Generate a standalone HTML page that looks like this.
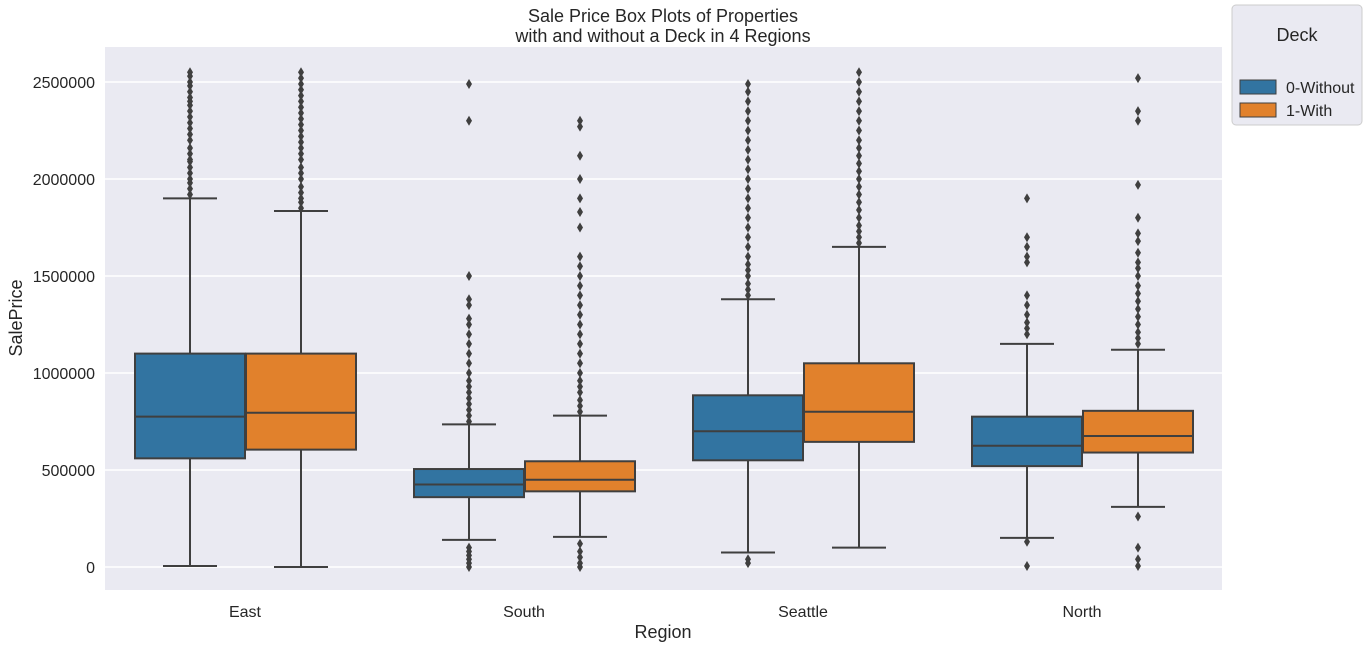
<!DOCTYPE html>
<html><head><meta charset="utf-8">
<style>
body{margin:0;background:#fff;font-family:"Liberation Sans","DejaVu Sans",sans-serif;}
svg text{font-family:"Liberation Sans","DejaVu Sans",sans-serif;fill:#262626;}
</style></head>
<body>
<svg id="chart" width="1370" height="648" viewBox="0 0 1370 648">
<rect x="105" y="47" width="1117" height="543" fill="#eaeaf2"/>
<g id="grid"></g>
<g id="boxes"></g>
<text x="663" y="22" text-anchor="middle" font-size="18">Sale Price Box Plots of Properties</text>
<text x="663" y="42" text-anchor="middle" font-size="18">with and without a Deck in 4 Regions</text>
<text x="663" y="638" text-anchor="middle" font-size="18">Region</text>
<text transform="translate(22,318) rotate(-90)" text-anchor="middle" font-size="18">SalePrice</text>
<g>
<rect x="1232" y="5" width="130" height="120" rx="4" fill="#eaeaf2" stroke="#cccccc"/>
<text x="1297" y="41" text-anchor="middle" font-size="18">Deck</text>
<rect x="1240" y="80" width="36" height="14" fill="#3274a1" stroke="#3f3f3f"/>
<text x="1286" y="93" font-size="16">0-Without</text>
<rect x="1240" y="103" width="36" height="14" fill="#e1812c" stroke="#3f3f3f"/>
<text x="1286" y="116" font-size="16">1-With</text>
</g>
</svg>
<script>
const categories=["East","South","Seattle","North"];
const hues=["0-Without","1-With"];
const yTicks=[0,500000,1000000,1500000,2000000,2500000];
const whiskerLow=[[5000,0],[140000,155000],[75000,100000],[150000,310000]];
const q1=[[560000,605000],[360000,390000],[550000,645000],[520000,590000]];
const medians=[[775000,795000],[425000,450000],[700000,800000],[625000,675000]];
const q3=[[1100000,1100000],[505000,545000],[885000,1050000],[775000,805000]];
const whiskerHigh=[[1900000,1835000],[735000,780000],[1380000,1650000],[1150000,1120000]];
const outliers=[
 [[1920000,1950000,1980000,2000000,2030000,2060000,2090000,2100000,2130000,2160000,2200000,2230000,2260000,2290000,2320000,2350000,2380000,2400000,2420000,2450000,2480000,2500000,2530000,2550000],
  [1850000,1880000,1900000,1930000,1960000,2000000,2030000,2060000,2100000,2130000,2160000,2190000,2220000,2250000,2280000,2310000,2340000,2370000,2400000,2430000,2460000,2490000,2520000,2550000]],
 [[0,20000,40000,60000,80000,100000,750000,780000,810000,840000,870000,900000,930000,960000,1000000,1050000,1100000,1150000,1200000,1250000,1280000,1350000,1380000,1500000,2300000,2490000],
  [0,20000,50000,80000,120000,800000,830000,860000,900000,930000,960000,1000000,1050000,1100000,1150000,1200000,1250000,1300000,1350000,1400000,1450000,1500000,1550000,1600000,1750000,1830000,1900000,2000000,2120000,2270000,2300000]],
 [[20000,40000,1400000,1430000,1460000,1500000,1530000,1560000,1600000,1650000,1700000,1750000,1800000,1850000,1900000,1950000,2000000,2050000,2100000,2150000,2200000,2250000,2300000,2350000,2400000,2450000,2490000],
  [1670000,1700000,1730000,1760000,1800000,1840000,1880000,1920000,1960000,2000000,2040000,2080000,2120000,2160000,2200000,2250000,2300000,2350000,2400000,2450000,2500000,2550000]],
 [[5000,130000,1200000,1230000,1260000,1300000,1350000,1400000,1570000,1600000,1650000,1700000,1900000],
  [5000,40000,100000,260000,1150000,1180000,1210000,1250000,1290000,1330000,1370000,1410000,1450000,1500000,1540000,1570000,1620000,1680000,1720000,1800000,1970000,2300000,2350000,2520000]]
];
const NS="http://www.w3.org/2000/svg";
const colors=["#3274a1","#e1812c"];
function yScale(v){return 567-v*485/2500000;}
function xCenter(i){return 245+i*279;}
function mk(tag,attrs,parent){const e=document.createElementNS(NS,tag);for(const k in attrs)e.setAttribute(k,attrs[k]);parent.appendChild(e);return e;}
const grid=document.getElementById('grid');
const boxes=document.getElementById('boxes');
const svg=document.getElementById('chart');
yTicks.forEach(t=>{
 const y=yScale(t);
 const l=mk('line',{x1:105,x2:1222,y1:y,y2:y,stroke:'#fff','stroke-width':1.5},grid);
 
 
 const tx=mk('text',{x:95,y:y+6,'text-anchor':'end','font-size':16},svg);
 tx.textContent=String(t);
 
 
});
categories.forEach((c,i)=>{
 const tx=mk('text',{x:xCenter(i),y:617,'text-anchor':'middle','font-size':16},svg);
 tx.textContent=c;
 
 
 hues.forEach((h,j)=>{
  const cx=xCenter(i)+(j===0?-55:56), w=110, ln='#3f3f3f';
  const g=mk('g',{},boxes);
  
  
  mk('line',{x1:cx,x2:cx,y1:yScale(whiskerLow[i][j]),y2:yScale(q1[i][j]),stroke:ln,'stroke-width':2},g);
  mk('line',{x1:cx,x2:cx,y1:yScale(q3[i][j]),y2:yScale(whiskerHigh[i][j]),stroke:ln,'stroke-width':2},g);
  mk('line',{x1:cx-27,x2:cx+27,y1:yScale(whiskerLow[i][j]),y2:yScale(whiskerLow[i][j]),stroke:ln,'stroke-width':2},g);
  mk('line',{x1:cx-27,x2:cx+27,y1:yScale(whiskerHigh[i][j]),y2:yScale(whiskerHigh[i][j]),stroke:ln,'stroke-width':2},g);
  mk('rect',{x:cx-w/2,y:yScale(q3[i][j]),width:w,height:yScale(q1[i][j])-yScale(q3[i][j]),fill:colors[j],stroke:ln,'stroke-width':2},g);
  mk('line',{x1:cx-w/2,x2:cx+w/2,y1:yScale(medians[i][j]),y2:yScale(medians[i][j]),stroke:ln,'stroke-width':2},g);
  outliers[i][j].forEach(v=>{
   const y=yScale(v);
   const p=mk('polygon',{points:`${cx},${y-5} ${cx+3},${y} ${cx},${y+5} ${cx-3},${y}`,fill:ln},g);
   
   
  });
 });
});
</script>
</body></html>
